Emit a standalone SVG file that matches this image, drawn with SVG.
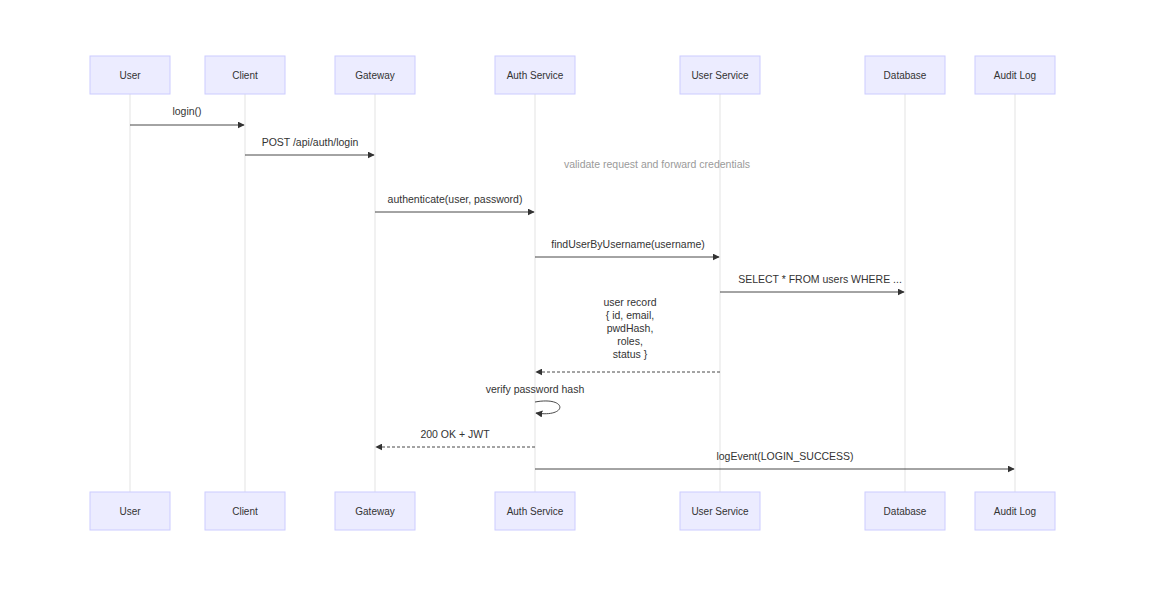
<svg xmlns="http://www.w3.org/2000/svg" width="1165" height="601" viewBox="0 0 1165 601">
<defs>
<marker id="arrow" viewBox="0 0 10 10" refX="9" refY="5" markerWidth="7" markerHeight="7" orient="auto-start-reverse" markerUnits="userSpaceOnUse">
<path d="M0,0 L10,5 L0,10 z" fill="#333"/>
</marker>
<style>
.actor rect{fill:#ECECFF;stroke:#CCCCFF;stroke-width:1}
.actor text{font-family:"Liberation Sans",Arial,sans-serif;font-size:10px;fill:#333;text-anchor:middle;dominant-baseline:central}
.life{stroke:#d0d0d0;stroke-width:0.6}
.msg{stroke:#333;stroke-width:0.9;fill:none;marker-end:url(#arrow)}
.ret{stroke:#333;stroke-width:0.9;fill:none;stroke-dasharray:3,2;marker-end:url(#arrow)}
.lbl{font-family:"Liberation Sans",Arial,sans-serif;font-size:10.5px;fill:#333;text-anchor:middle}
.faint{font-family:"Liberation Sans",Arial,sans-serif;font-size:10.5px;fill:#9a9a9a;text-anchor:middle}
</style>
</defs>
<rect width="1165" height="601" fill="#fff"/>

<g id="lifelines">
<line class="life" x1="130" y1="94" x2="130" y2="492"/>
<line class="life" x1="245" y1="94" x2="245" y2="492"/>
<line class="life" x1="375" y1="94" x2="375" y2="492"/>
<line class="life" x1="535" y1="94" x2="535" y2="492"/>
<line class="life" x1="720" y1="94" x2="720" y2="492"/>
<line class="life" x1="905" y1="94" x2="905" y2="492"/>
<line class="life" x1="1015" y1="94" x2="1015" y2="492"/>
</g>

<g id="p1" class="actor"><rect x="90" y="56" width="80" height="38"/><text x="130" y="75">User</text><rect x="90" y="492" width="80" height="38"/><text x="130" y="511">User</text></g>
<g id="p2" class="actor"><rect x="205" y="56" width="80" height="38"/><text x="245" y="75">Client</text><rect x="205" y="492" width="80" height="38"/><text x="245" y="511">Client</text></g>
<g id="p3" class="actor"><rect x="335" y="56" width="80" height="38"/><text x="375" y="75">Gateway</text><rect x="335" y="492" width="80" height="38"/><text x="375" y="511">Gateway</text></g>
<g id="p4" class="actor"><rect x="495" y="56" width="80" height="38"/><text x="535" y="75">Auth Service</text><rect x="495" y="492" width="80" height="38"/><text x="535" y="511">Auth Service</text></g>
<g id="p5" class="actor"><rect x="680" y="56" width="80" height="38"/><text x="720" y="75">User Service</text><rect x="680" y="492" width="80" height="38"/><text x="720" y="511">User Service</text></g>
<g id="p6" class="actor"><rect x="865" y="56" width="80" height="38"/><text x="905" y="75">Database</text><rect x="865" y="492" width="80" height="38"/><text x="905" y="511">Database</text></g>
<g id="p7" class="actor"><rect x="975" y="56" width="80" height="38"/><text x="1015" y="75">Audit Log</text><rect x="975" y="492" width="80" height="38"/><text x="1015" y="511">Audit Log</text></g>

<g id="connectors">
<line class="msg" x1="130" y1="125" x2="244" y2="125"/>
<line class="msg" x1="245" y1="155" x2="374" y2="155"/>
<line class="msg" x1="375" y1="212" x2="534" y2="212"/>
<line class="msg" x1="535" y1="257" x2="719" y2="257"/>
<line class="msg" x1="720" y1="292" x2="904" y2="292"/>
<line class="ret" x1="720" y1="372" x2="536" y2="372"/>
<path class="msg" d="M535,402 C568,396 568,418 536,413"/>
<line class="ret" x1="535" y1="447" x2="376" y2="447"/>
<line class="msg" x1="535" y1="469" x2="1014" y2="469"/>
</g>

<g id="labels">
<text class="lbl" x="187" y="115">login()</text>
<text class="lbl" x="310" y="146">POST /api/auth/login</text>
<text class="faint" x="657" y="168">validate request and forward credentials</text>
<text class="lbl" x="455" y="203">authenticate(user, password)</text>
<text class="lbl" x="628" y="248">findUserByUsername(username)</text>
<text class="lbl" x="820" y="283">SELECT * FROM users WHERE ...</text>
<text class="lbl" x="630" y="306">user record</text>
<text class="lbl" x="630" y="319">{ id, email,</text>
<text class="lbl" x="630" y="332">pwdHash,</text>
<text class="lbl" x="630" y="345">roles,</text>
<text class="lbl" x="630" y="358">status }</text>
<text class="lbl" x="535" y="393">verify password hash</text>
<text class="lbl" x="455" y="438">200 OK + JWT</text>
<text class="lbl" x="785" y="460">logEvent(LOGIN_SUCCESS)</text>
</g>
</svg>
